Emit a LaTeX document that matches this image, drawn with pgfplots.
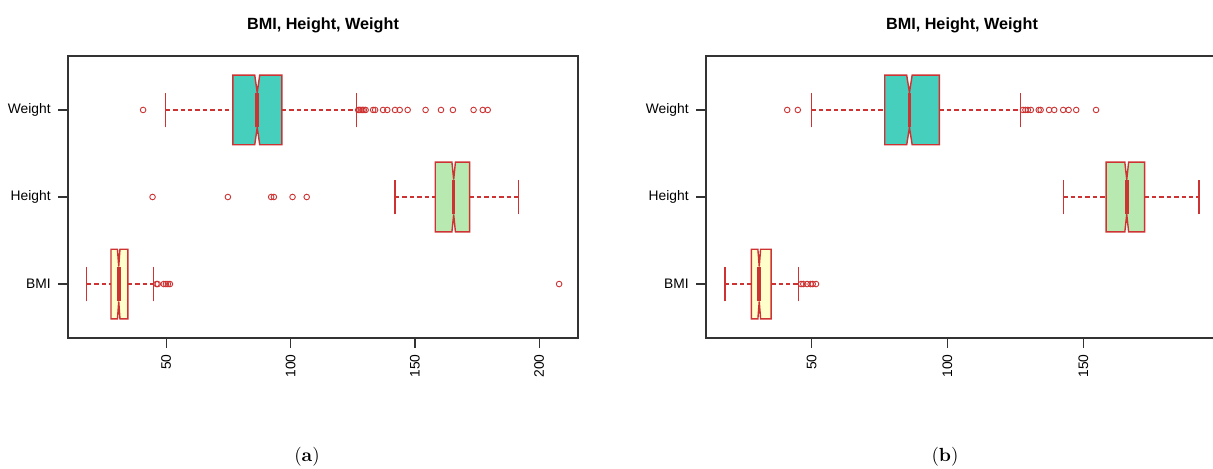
\documentclass[border=0pt]{standalone}
\usepackage{pgfplots}
\pgfplotsset{compat=1.18}
\usepackage{fontspec}
\newfontfamily\arial{Liberation Sans}
\definecolor{bred}{HTML}{CD3333}
\definecolor{turq}{HTML}{45CFBC}
\definecolor{lgreen}{HTML}{B8E9B0}
\definecolor{lyellow}{HTML}{FFFFCC}
\definecolor{axgray}{HTML}{333333}
\pgfplotsset{
 rplot/.style={
  scale only axis, width=255bp, height=141bp, anchor=south west,
  ymin=0.38, ymax=3.62,
  axis line style={axgray, line width=0.7bp},
  tick style={axgray, line width=0.7bp},
  tick align=outside, major tick length=5bp,
  xtick pos=lower, ytick pos=left,
  ytick={1,2,3}, yticklabels={BMI,Height,Weight},
  xtick={50,100,150,200},
  tick label style={font=\arial\fontsize{6.9bp}{8bp}\selectfont},
  /pgf/number format/assume math mode=true,
  xticklabel style={rotate=90, anchor=east, inner sep=0pt, xshift=-3bp},
  yticklabel style={inner sep=0pt, xshift=-3.5bp},
  title style={font=\arial\bfseries\fontsize{8.1bp}{9.5bp}\selectfont, at={(0.5,1)}, anchor=center, yshift=9.5bp},
  title={BMI, Height, Weight},
 },
 whisk/.style={bred, line width=0.55bp, dash pattern=on 2.2bp off 1.5bp},
 staple/.style={bred, line width=0.6bp},
 nbox/.style={draw=bred, line width=0.7bp},
 med/.style={bred, line width=1.8bp, line cap=butt},
 outl/.style={only marks, mark=o, mark size=1.4bp, mark options={draw=bred, line width=0.45bp}},
}
\begin{document}
\begin{tikzpicture}
\path[use as bounding box] (0,0) rectangle (606.5bp,234.5bp);
\clip (0,0) rectangle (606.5bp,234.5bp);
% ---------------- panel (a)
\begin{axis}[rplot, at={(34bp,65.5bp)}, xmin=10.5, xmax=215.6]
% Weight
\addplot[whisk] coordinates {(49.8,3) (76.8,3)};
\addplot[whisk] coordinates {(96.5,3) (126.6,3)};
\addplot[staple] coordinates {(49.8,2.8) (49.8,3.2)};
\addplot[staple] coordinates {(126.6,2.8) (126.6,3.2)};
\addplot[nbox, fill=turq] coordinates {(76.8,2.6) (76.8,3.4) (85.6,3.4) (86.6,3.2) (87.6,3.4) (96.5,3.4) (96.5,2.6) (87.6,2.6) (86.6,2.8) (85.6,2.6)} -- cycle;
\addplot[med] coordinates {(86.6,2.8) (86.6,3.2)};
\addplot[outl] coordinates {(40.7,3) (127.2,3) (127.7,3) (128.3,3) (128.9,3) (129.5,3) (130.2,3) (133.2,3) (134.0,3) (137.2,3) (138.9,3) (142.0,3) (143.9,3) (147.1,3) (154.3,3) (160.5,3) (165.3,3) (173.6,3) (177.3,3) (179.3,3)};
% Height
\addplot[whisk] coordinates {(142.0,2) (158.2,2)};
\addplot[whisk] coordinates {(172.0,2) (191.8,2)};
\addplot[staple] coordinates {(142.0,1.8) (142.0,2.2)};
\addplot[staple] coordinates {(191.8,1.8) (191.8,2.2)};
\addplot[nbox, fill=lgreen] coordinates {(158.2,1.6) (158.2,2.4) (164.9,2.4) (165.6,2.2) (166.3,2.4) (172.0,2.4) (172.0,1.6) (166.3,1.6) (165.6,1.8) (164.9,1.6)} -- cycle;
\addplot[med] coordinates {(165.6,1.8) (165.6,2.2)};
\addplot[outl] coordinates {(44.5,2) (74.8,2) (92.2,2) (93.3,2) (100.8,2) (106.5,2)};
% BMI
\addplot[whisk] coordinates {(18.1,1) (27.8,1)};
\addplot[whisk] coordinates {(34.6,1) (45.0,1)};
\addplot[staple] coordinates {(18.1,0.8) (18.1,1.2)};
\addplot[staple] coordinates {(45.0,0.8) (45.0,1.2)};
\addplot[nbox, fill=lyellow] coordinates {(27.8,0.6) (27.8,1.4) (30.4,1.4) (30.9,1.2) (31.4,1.4) (34.6,1.4) (34.6,0.6) (31.4,0.6) (30.9,0.8) (30.4,0.6)} -- cycle;
\addplot[med] coordinates {(30.9,0.8) (30.9,1.2)};
\addplot[outl] coordinates {(46.1,1) (46.6,1) (49.0,1) (49.9,1) (50.7,1) (51.5,1) (208.0,1)};
\end{axis}
% ---------------- panel (b)
\begin{axis}[rplot, at={(353bp,65.5bp)}, width=256bp, xmin=11.1, xmax=199.6]
% Weight
\addplot[whisk] coordinates {(50.0,3) (76.9,3)};
\addplot[whisk] coordinates {(97.0,3) (126.9,3)};
\addplot[staple] coordinates {(50.0,2.8) (50.0,3.2)};
\addplot[staple] coordinates {(126.9,2.8) (126.9,3.2)};
\addplot[nbox, fill=turq] coordinates {(76.9,2.6) (76.9,3.4) (85.0,3.4) (86.0,3.2) (87.0,3.4) (97.0,3.4) (97.0,2.6) (87.0,2.6) (86.0,2.8) (85.0,2.6)} -- cycle;
\addplot[med] coordinates {(86.0,2.8) (86.0,3.2)};
\addplot[outl] coordinates {(41.0,3) (44.9,3) (127.8,3) (128.7,3) (129.6,3) (130.7,3) (133.6,3) (134.3,3) (137.4,3) (139.3,3) (142.6,3) (144.6,3) (147.4,3) (154.7,3)};
% Height
\addplot[whisk] coordinates {(142.6,2) (158.4,2)};
\addplot[whisk] coordinates {(172.6,2) (192.6,2)};
\addplot[staple] coordinates {(142.6,1.8) (142.6,2.2)};
\addplot[staple] coordinates {(192.6,1.8) (192.6,2.2)};
\addplot[nbox, fill=lgreen] coordinates {(158.4,1.6) (158.4,2.4) (165.3,2.4) (166.0,2.2) (166.7,2.4) (172.6,2.4) (172.6,1.6) (166.7,1.6) (166.0,1.8) (165.3,1.6)} -- cycle;
\addplot[med] coordinates {(166.0,1.8) (166.0,2.2)};
% BMI
\addplot[whisk] coordinates {(18.1,1) (27.8,1)};
\addplot[whisk] coordinates {(35.1,1) (45.1,1)};
\addplot[staple] coordinates {(18.1,0.8) (18.1,1.2)};
\addplot[staple] coordinates {(45.1,0.8) (45.1,1.2)};
\addplot[nbox, fill=lyellow] coordinates {(27.8,0.6) (27.8,1.4) (30.2,1.4) (30.7,1.2) (31.2,1.4) (35.1,1.4) (35.1,0.6) (31.2,0.6) (30.7,0.8) (30.2,0.6)} -- cycle;
\addplot[med] coordinates {(30.7,0.8) (30.7,1.2)};
\addplot[outl] coordinates {(46.1,1) (46.9,1) (48.3,1) (49.6,1) (50.4,1) (51.6,1)};
\end{axis}
\node[font=\fontsize{9.5bp}{11bp}\selectfont] at (153.5bp,6bp) {(\textbf{a})};
\node[font=\fontsize{9.5bp}{11bp}\selectfont] at (472.5bp,6bp) {(\textbf{b})};
\end{tikzpicture}
\end{document}
